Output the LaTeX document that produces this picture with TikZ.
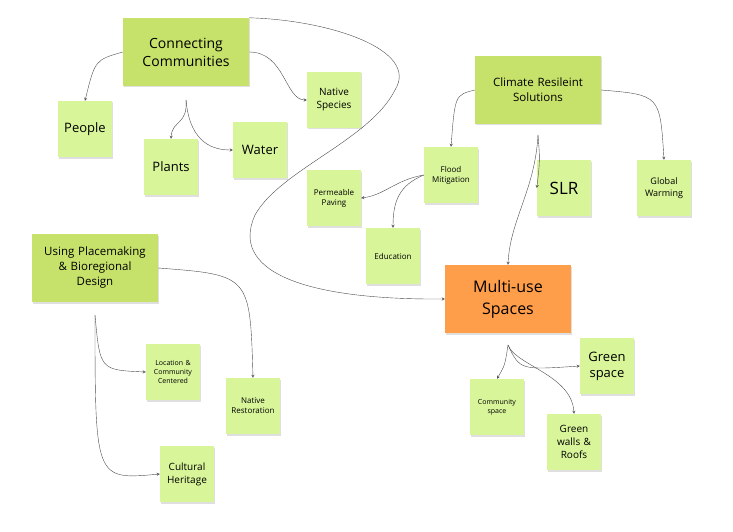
\documentclass[tikz,border=0pt]{standalone}
\usepackage{fontspec}
\setmainfont{Open Sans}
\usetikzlibrary{shadows}
\definecolor{notegreen}{HTML}{D8F59A}
\definecolor{headgreen}{HTML}{C7E26A}
\definecolor{noteorange}{HTML}{FF9E4A}
\tikzset{
  note/.style={rectangle, fill=notegreen, minimum width=54pt, minimum height=56pt,
    inner sep=1pt, align=center, text width=52pt, font=\fontsize{8}{10}\selectfont,
    drop shadow={opacity=0.25, shadow xshift=1pt, shadow yshift=-1.5pt}},
  big/.style={note, font=\fontsize{13}{16}\selectfont},
  head/.style={note, fill=headgreen, minimum width=126pt, minimum height=68pt,
    text width=120pt, font=\fontsize{11.5}{15}\selectfont},
  link/.style={->, >=stealth, draw=black!70, thin}
}
\begin{document}
\begin{tikzpicture}[x=1pt, y=-1pt]
    \useasboundingbox (0,0) rectangle (733,532);
    % headers
    \node[head, font=\fontsize{14}{18}\selectfont] (CC) at (186,52) {Connecting\\Communities};
    \node[head] (CR) at (538,90) {Climate Resileint\\Solutions};
    \node[head] (UP) at (95,268) {Using Placemaking\\\& Bioregional\\Design};
    \node[head, fill=noteorange, font=\fontsize{16}{22}\selectfont] (MU) at (508,299) {Multi-use\\Spaces};
    % notes
    \node[big] (PE) at (85,129) {People};
    \node[big] (PL) at (171,167) {Plants};
    \node[big] (WA) at (260,150) {Water};
    \node[note, font=\fontsize{10}{13}\selectfont] (NS) at (334,100) {Native\\Species};
    \node[note] (FM) at (451,175) {Flood\\Mitigation};
    \node[note] (PP) at (334,198) {Permeable\\Paving};
    \node[note] (ED) at (393,256) {Education};
    \node[big, font=\fontsize{17}{20}\selectfont] (SLR) at (564,188) {SLR};
    \node[note, font=\fontsize{9}{12}\selectfont] (GW) at (664,188) {Global\\Warming};
    \node[note, font=\fontsize{7}{9}\selectfont] (LC) at (173,372) {Location \&\\Community\\Centered};
    \node[note] (NR) at (253,406) {Native\\Restoration};
    \node[note, font=\fontsize{10}{13}\selectfont] (CH) at (187,474) {Cultural\\Heritage};
    \node[note, font=\fontsize{7}{9}\selectfont] (CS) at (497,407) {Community\\space};
    \node[big] (GS) at (607,366) {Green\\space};
    \node[note, font=\fontsize{10}{13}\selectfont] (GR) at (574,442) {Green\\walls \&\\Roofs};
    % connectors
    \coordinate (ccb) at (186,100);
    \coordinate (crb) at (538,135);
    \coordinate (upb) at (95,315);
    \coordinate (mub) at (508,345);
    \draw[link] (CC.west) .. controls (95,60) .. (PE.north);
    \draw[link] (ccb) .. controls (188,125) and (172,120) .. (PL.north);
    \draw[link] (ccb) .. controls (190,145) and (215,150) .. (WA.west);
    \draw[link] (CC.east) .. controls (285,52) and (285,100) .. (NS.west);
    \draw[link] (CC.north east) .. controls (330,20) and (420,50) .. (395,90)
        .. controls (370,140) and (280,170) .. (255,215)
        .. controls (230,270) and (300,300) .. (MU.west);
    \draw[link] (CR.west) .. controls (455,95) .. (FM.north);
    \draw[link] (crb) .. controls (540,160) .. (SLR.west);
    \draw[link] (crb) .. controls (535,190) and (510,220) .. (MU.north);
    \draw[link] (CR.east) .. controls (660,95) .. (GW.north);
    \draw[link] (FM.west) .. controls (395,180) and (385,195) .. (PP.east);
    \draw[link] (FM.west) .. controls (400,185) and (393,200) .. (ED.north);
    \draw[link] (UP.east) .. controls (250,275) .. (NR.north);
    \draw[link] (upb) .. controls (100,370) .. (LC.west);
    \draw[link] (upb) .. controls (95,480) .. (CH.west);
    \draw[link] (mub) .. controls (505,365) .. (CS.north);
    \draw[link] (mub) .. controls (520,370) .. (GS.west);
    \draw[link] (mub) .. controls (515,365) and (572,375) .. (GR.north);
\end{tikzpicture}
\end{document}
